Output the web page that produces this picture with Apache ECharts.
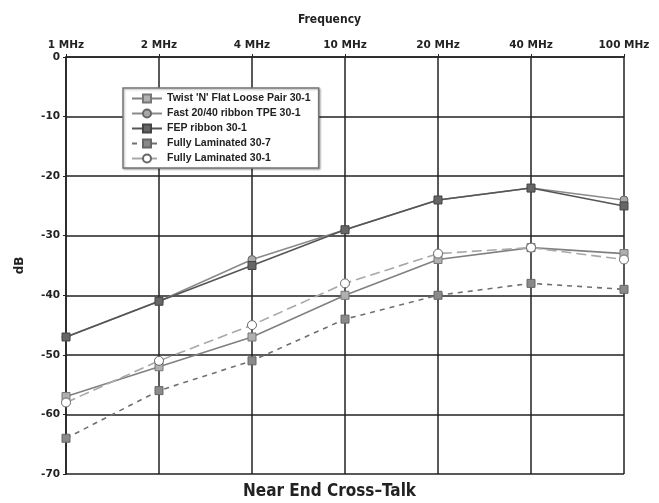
<!DOCTYPE html>
<html>
<head>
<meta charset="utf-8">
<script src="https://cdn.jsdelivr.net/npm/echarts@6/dist/echarts.min.js"></script>
<style>
  html, body { margin: 0; padding: 0; background: #fff; }
  #main { width: 659px; height: 503px; }
</style>
</head>
<body>
<div id="main"></div>
<script>
// frequencies (categories along the top axis)
const freqs = ['1 MHz', '2 MHz', '4 MHz', '10 MHz', '20 MHz', '40 MHz', '100 MHz']
const yTicks = [0, -10, -20, -30, -40, -50, -60, -70]

// NEXT values in dB
const twistFlat = [-57, -52, -47, -40, -34, -32, -33]
const fastRibbon = [-47, -41, -34, -29, -24, -22, -24]
const fepRibbon = [-47, -41, -35, -29, -24, -22, -25]
const fullyLam307 = [-64, -56, -51, -44, -40, -38, -39]
const fullyLam301 = [-58, -51, -45, -38, -33, -32, -34]

const boldFont = 'DejaVu Sans'
const narrowFont = '"DejaVu Sans Condensed", "Liberation Sans Narrow", "Roboto Condensed", sans-serif'

const chart = echarts.init(document.getElementById('main'))

const mkSeries = (name, data, opt) => ({
  name,
  data,
  type: 'line',
  symbol: opt.symbol,
  symbolSize: opt.size,
  showSymbol: true,
  z: opt.z,
  lineStyle: { color: opt.line, width: 1.6, type: opt.dash || 'solid' },
  itemStyle: { color: opt.fill, borderColor: opt.border, borderWidth: 1 }
})

const option = {
  animation: false,
  backgroundColor: '#fff',
  title: [
    {
      text: 'Frequency',
      left: 'center',
      top: 9,
      textStyle: { fontFamily: narrowFont, fontWeight: 'bold', fontSize: 12, color: '#222' }
    },
    {
      text: 'Near End Cross–Talk',
      left: 'center',
      top: 478,
      textStyle: { fontFamily: narrowFont, fontWeight: 'bold', fontSize: 17, color: '#222' }
    }
  ],
  legend: {
    orient: 'vertical',
    left: 123,
    top: 88,
    padding: [5, 8, 4, 8],
    itemGap: 4,
    itemWidth: 30,
    itemHeight: 10,
    backgroundColor: '#fff',
    borderColor: '#777',
    borderWidth: 1.5,
    shadowColor: 'rgba(0,0,0,0.3)',
    shadowBlur: 2,
    shadowOffsetX: 1,
    shadowOffsetY: 1,
    textStyle: { fontFamily: 'Liberation Sans', fontWeight: 'bold', fontSize: 10.5, color: '#222' },
    data: ['Twist \'N\' Flat Loose Pair 30-1', 'Fast 20/40 ribbon TPE 30-1', 'FEP ribbon 30-1', 'Fully Laminated 30-7', 'Fully Laminated 30-1']
  },
  grid: { left: 66, right: 35, top: 57, bottom: 29, containLabel: false },
  xAxis: {
    type: 'category',
    position: 'top',
    boundaryGap: false,
    data: freqs,
    axisLine: { lineStyle: { color: '#222', width: 1.6 } },
    axisTick: { show: true, length: 3, lineStyle: { color: '#222' } },
    axisLabel: { fontFamily: boldFont, fontWeight: 'bold', fontSize: 10.5, color: '#222', margin: 6 },
    splitLine: { show: true, lineStyle: { color: '#222', width: 1.5 } }
  },
  yAxis: {
    type: 'value',
    min: -70,
    max: 0,
    interval: 10,
    name: 'dB',
    nameLocation: 'middle',
    nameRotate: 90,
    nameGap: 40,
    nameTextStyle: { fontFamily: boldFont, fontWeight: 'bold', fontSize: 12, color: '#222' },
    axisLine: { show: true, lineStyle: { color: '#222', width: 1.6 } },
    axisTick: { show: true, length: 3, lineStyle: { color: '#222' } },
    axisLabel: {
      fontFamily: boldFont, fontWeight: 'bold', fontSize: 10.5, color: '#222', margin: 6,
      formatter: v => yTicks.includes(v) ? String(v) : ''
    },
    splitLine: { show: true, lineStyle: { color: '#222', width: 1.5 } }
  },
  series: [
    mkSeries('Twist \'N\' Flat Loose Pair 30-1', twistFlat, { symbol: 'rect', size: 8, line: '#808080', fill: '#b0b0b0', border: '#777', z: 3 }),
    mkSeries('Fast 20/40 ribbon TPE 30-1', fastRibbon, { symbol: 'circle', size: 8, line: '#8a8a8a', fill: '#a8a8a8', border: '#666', z: 2 }),
    mkSeries('FEP ribbon 30-1', fepRibbon, { symbol: 'rect', size: 8, line: '#555', fill: '#666', border: '#444', z: 4 }),
    mkSeries('Fully Laminated 30-7', fullyLam307, { symbol: 'rect', size: 8, line: '#707070', fill: '#8a8a8a', border: '#666', dash: [5, 5], z: 3 }),
    mkSeries('Fully Laminated 30-1', fullyLam301, { symbol: 'circle', size: 9, line: '#a8a8a8', fill: '#fff', border: '#666', dash: [10, 5], z: 5 })
  ]
}

chart.setOption(option)
</script>
</body>
</html>
